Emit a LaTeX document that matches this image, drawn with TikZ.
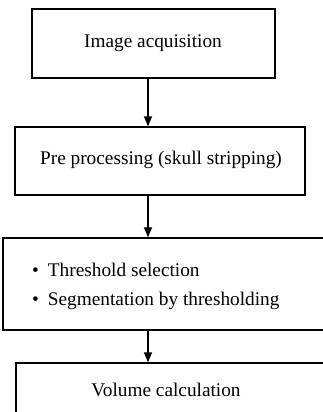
\documentclass[tikz,border=0pt]{standalone}
\usepackage{fontspec}
\setmainfont{Liberation Serif}
\usetikzlibrary{arrows.meta}
\begin{document}
\begin{tikzpicture}[x=1pt,y=-1pt,
  box/.style={draw, line width=1.3pt, rectangle, inner sep=0pt},
  lbl/.style={font=\fontsize{19.3}{30}\selectfont, inner sep=0pt},
  arr/.style={line width=1.3pt, -{Triangle[length=10pt,width=8pt]}}]
\useasboundingbox (0,0) rectangle (323,412);
\clip (0,0) rectangle (323,412);
% boxes
\node[box, minimum width=243pt, minimum height=69pt] (b1) at (153.5,43.5) {};
\node[box, minimum width=290pt, minimum height=68pt] (b2) at (160,161) {};
\node[box, minimum width=340pt, minimum height=92pt] (b3) at (173,284) {};
\node[box, minimum width=340pt, minimum height=70pt] (b4) at (186,398) {};
% texts
\node[lbl] (t1) at (153,43) {Image acquisition};
\node[lbl] (t2) at (161,160) {Pre processing (skull stripping)};
\node[lbl, anchor=west] (t3a) at (32,270) {\textbullet\hspace{9pt}Threshold selection};
\node[lbl, anchor=west] (t3b) at (32,301) {\textbullet\hspace{9pt}Segmentation by thresholding};
\node[lbl] (t4) at (166,390) {Volume calculation};
% arrows
\coordinate (ax) at (148,0);
\draw[arr] (b1.south -| ax) -- (b2.north -| ax);
\draw[arr] (b2.south -| ax) -- (b3.north -| ax);
\draw[arr] (b3.south -| ax) -- (b4.north -| ax);
\end{tikzpicture}
\end{document}
